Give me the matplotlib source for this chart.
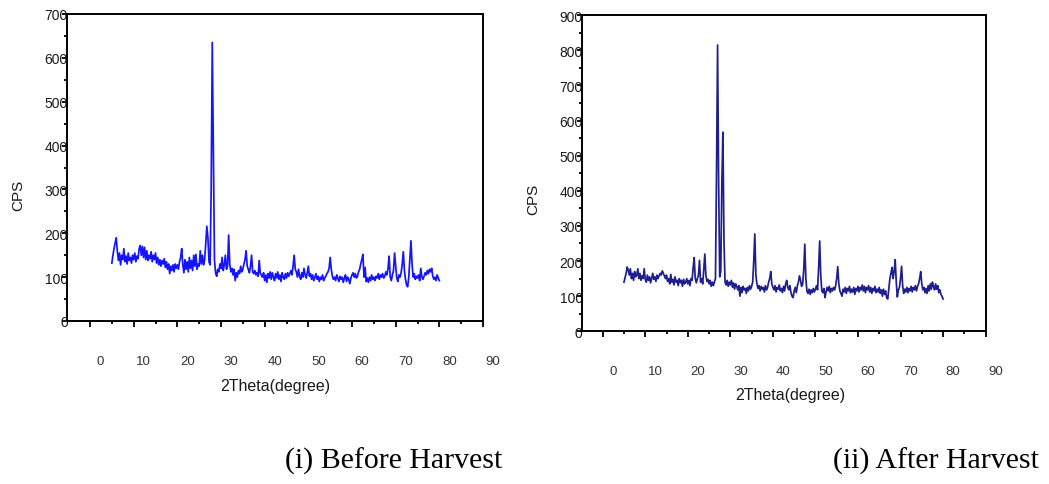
import numpy as np
import matplotlib
matplotlib.use("Agg")
import matplotlib.pyplot as plt
from matplotlib.ticker import FixedLocator
import matplotlib.transforms as mtransforms

plt.rcParams['font.family'] = ['Liberation Sans', 'DejaVu Sans']

# 2-theta scan grid (degrees): 5 to 80 in 0.25 degree steps
two_theta = np.arange(5.0, 80.001, 0.25)

# (i) Before Harvest - counts per second
cps_before = [
    132, 150, 165, 178, 190, 160, 138, 155, 128, 150, 140, 165, 135, 148, 130, 155, 138, 145, 132, 150,
    140, 155, 135, 148, 142, 165, 172, 150, 170, 145, 168, 140, 160, 138, 150, 142, 158, 135, 150, 140,
    155, 132, 145, 128, 140, 125, 138, 130, 142, 122, 135, 118, 130, 108, 125, 115, 128, 112, 130, 120,
    128, 118, 135, 145, 165, 128, 110, 140, 118, 135, 112, 145, 120, 138, 115, 150, 125, 152, 118, 130,
    125, 160, 130, 150, 128, 140, 175, 216, 190, 135, 128, 300, 635, 380, 140, 110, 102, 118, 112, 130,
    120, 145, 115, 128, 150, 118, 125, 196, 130, 112, 120, 105, 118, 92, 110, 100, 115, 108, 125, 112,
    118, 130, 140, 160, 125, 118, 110, 125, 150, 112, 108, 115, 105, 110, 102, 138, 108, 105, 100, 110,
    92, 105, 88, 108, 98, 112, 95, 110, 100, 92, 108, 98, 112, 95, 105, 90, 110, 100, 95, 108,
    98, 110, 102, 108, 115, 105, 125, 150, 118, 112, 100, 118, 102, 95, 110, 100, 120, 105, 98, 110,
    125, 102, 108, 95, 105, 92, 100, 108, 95, 102, 90, 100, 95, 105, 92, 98, 102, 108, 112, 120,
    145, 118, 102, 95, 100, 92, 105, 98, 90, 102, 95, 100, 88, 98, 105, 90, 100, 95, 85, 98,
    105, 110, 100, 108, 98, 102, 112, 118, 130, 140, 152, 100, 122, 90, 98, 88, 100, 92, 105, 95,
    100, 92, 102, 98, 108, 95, 105, 100, 108, 98, 102, 112, 105, 120, 148, 100, 92, 105, 115, 155,
    125, 98, 90, 105, 100, 110, 130, 158, 115, 95, 82, 78, 100, 140, 183, 130, 100, 108, 95, 102,
    98, 105, 92, 120, 100, 95, 102, 110, 105, 115, 108, 118, 112, 120, 102, 95, 100, 92, 105, 98, 92,
]

# (ii) After Harvest - counts per second
cps_after = [
    140, 152, 165, 183, 175, 160, 178, 150, 165, 145, 170, 155, 160, 178, 150, 165, 145, 158, 150, 178,
    148, 140, 160, 145, 155, 138, 150, 165, 148, 155, 142, 160, 150, 158, 165, 160, 172, 165, 158, 150,
    160, 142, 150, 135, 162, 140, 148, 132, 155, 140, 145, 130, 150, 138, 145, 128, 148, 135, 140, 150,
    135, 145, 130, 150, 145, 180, 210, 150, 138, 150, 160, 202, 140, 150, 135, 175, 220, 160, 142, 148,
    135, 145, 128, 140, 130, 140, 150, 450, 815, 420, 155, 170, 420, 567, 260, 140, 132, 145, 128, 140,
    132, 145, 125, 138, 120, 135, 128, 118, 130, 100, 125, 110, 128, 118, 122, 108, 125, 115, 130, 120,
    128, 140, 200, 277, 160, 135, 122, 130, 115, 128, 120, 125, 112, 130, 118, 125, 140, 150, 170, 135,
    125, 118, 130, 112, 125, 120, 132, 115, 122, 110, 128, 115, 135, 145, 125, 118, 130, 110, 100, 96,
    115, 125, 110, 130, 140, 158, 145, 128, 135, 175, 248, 150, 115, 108, 120, 105, 118, 110, 122, 112,
    120, 130, 118, 180, 257, 160, 115, 110, 122, 96, 112, 125, 115, 128, 110, 122, 115, 125, 118, 130,
    150, 184, 135, 115, 108, 100, 120, 112, 125, 108, 122, 115, 128, 110, 120, 112, 125, 105, 122, 115,
    128, 112, 125, 118, 132, 115, 128, 110, 125, 118, 130, 112, 125, 108, 122, 115, 128, 110, 120, 112,
    125, 108, 118, 100, 120, 105, 115, 95, 92, 120, 150, 165, 182, 150, 170, 204, 140, 98, 118, 125,
    150, 185, 130, 108, 120, 112, 125, 110, 122, 115, 128, 112, 125, 118, 130, 115, 128, 135, 150, 170,
    135, 118, 125, 110, 122, 108, 130, 115, 135, 120, 140, 128, 118, 135, 120, 130, 110, 118, 105, 100, 92,
]

x_major_ticks = [0, 10, 20, 30, 40, 50, 60, 70, 80, 90]
x_minor_ticks = [5, 15, 25, 35, 45, 55, 65, 75, 85]
y_ticks_before = [0, 100, 200, 300, 400, 500, 600, 700]
y_ticks_after = [0, 100, 200, 300, 400, 500, 600, 700, 800, 900]
x_label = "2Theta(degree)"
y_label = "CPS"
captions = ["(i) Before Harvest", "(ii) After Harvest"]

W, H = 1049, 485
fig = plt.figure(figsize=(W / 100, H / 100), dpi=100)
ax1 = fig.add_axes([67 / W, 1 - 322 / H, 416 / W, 307 / H])
ax2 = fig.add_axes([581.7 / W, 1 - 332.3 / H, 403.9 / W, 316.1 / H])

ax1.plot(two_theta, cps_before, color='#1414ff', lw=1.25)
ax2.plot(two_theta, cps_after, color='#1e1e8c', lw=1.25)


def style(ax, xlo, ymax, yticks, ylab_xy, xlab_xy):
    ax.set_xlim(xlo, 90)
    ax.set_ylim(0, ymax)
    ax.set_xticks(x_major_ticks)
    ax.xaxis.set_minor_locator(FixedLocator(x_minor_ticks))
    ax.set_yticks(yticks)
    ax.yaxis.set_minor_locator(FixedLocator([v + 50 for v in yticks[:-1]]))
    for s in ax.spines.values():
        s.set_linewidth(1.4)
    ax.tick_params(which='both', direction='out', top=False, right=False, width=1.3)
    ax.tick_params(axis='x', which='major', length=4.5, pad=20, labelsize=9.5, labelcolor='#333333')
    ax.tick_params(axis='x', which='minor', length=2.4)
    ax.tick_params(axis='y', which='major', length=3.6, pad=-4.3, labelsize=10, labelcolor='#1a1a1a')
    ax.tick_params(axis='y', which='minor', length=2.4)
    offset = mtransforms.ScaledTranslation(0.10, 0, fig.dpi_scale_trans)
    for lab in ax.get_xticklabels():
        lab.set_transform(lab.get_transform() + offset)
    ax.set_ylabel(y_label, fontsize=11, va='center', color='#1a1a1a')
    ax.yaxis.set_label_coords(*ylab_xy)
    ax.set_xlabel(x_label, fontsize=11.5, va='center', color='#1a1a1a')
    ax.xaxis.set_label_coords(*xlab_xy)


style(ax1, -5.27, 700, y_ticks_before, (-0.118, 0.414), (0.5, -65 / 307))
style(ax2, -4.94, 900, y_ticks_after, (-0.119, 0.422), (0.516, -63 / 316.1))

fig.text(285 / W, 1 - 461 / H, captions[0], fontfamily='Liberation Serif',
         fontsize=21.5, ha='left', va='center')
fig.text(833 / W, 1 - 461 / H, captions[1], fontfamily='Liberation Serif',
         fontsize=21.5, ha='left', va='center')

fig.savefig('out.png', dpi=100)
